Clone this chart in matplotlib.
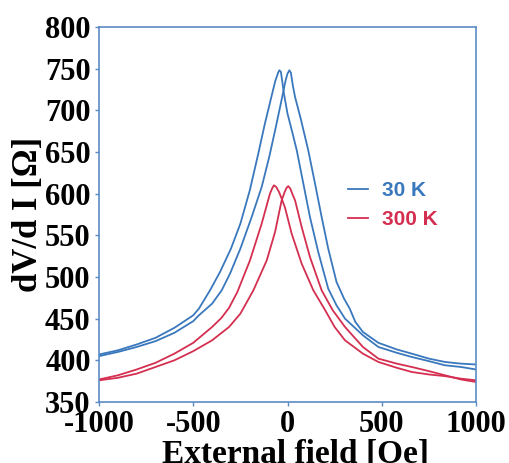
import matplotlib
matplotlib.use("Agg")
import matplotlib.pyplot as plt

plt.rcParams["axes.unicode_minus"] = False

# 30 K, sweep with the peak on the negative side
blue_a_field = [-1000, -900, -800, -700, -600, -500, -470, -411, -358, -300, -250, -200,
                -155, -120, -90, -65, -50, -43, -35, -25, -19, 0, 25, 49, 84, 119, 163,
                216, 260, 305, 400, 482, 580, 659, 750, 836, 920, 1000]
blue_a_res = [407, 412, 419, 427, 439, 454, 462, 484, 506, 534, 564, 604,
              648, 684, 712, 735, 745, 748, 746, 730, 720, 696, 674, 652, 612, 572, 530,
              486, 466, 450, 430, 416, 409, 404, 399, 394, 392, 389]

# 30 K, sweep with the peak on the positive side
blue_b_field = [-1000, -900, -800, -700, -600, -500, -470, -400, -349, -305, -250, -190,
                -137, -97, -60, -30, -10, 0, 10, 18, 28, 40, 70, 110, 146, 181, 216,
                260, 300, 330, 360, 400, 482, 580, 659, 750, 836, 920, 1000]
blue_b_res = [405, 410, 416, 423, 433, 447, 454, 468, 484, 504, 534, 572,
              608, 644, 682, 714, 736, 744, 748, 745, 730, 716, 690, 652, 612, 572, 534,
              494, 474, 462, 446, 434, 421, 413, 408, 402, 398, 396, 395]

# 300 K
red_a_field = [-1000, -900, -800, -700, -600, -500, -400, -350, -310, -266, -199, -137,
               -93, -80, -72, -60, -45, -31, -13, 22, 75, 137, 200, 250, 305, 400, 482,
               580, 659, 750, 836, 920, 1000]
red_a_res = [377, 382, 389, 397, 408, 421, 440, 451, 463, 482, 520, 564,
             600, 607, 610, 608, 602, 594, 583, 552, 516, 484, 460, 440, 424, 408, 398,
             391, 386, 383, 381, 378, 376]

red_b_field = [-1000, -900, -800, -700, -600, -500, -400, -310, -250, -181, -110, -66,
               -31, -15, -5, 4, 15, 25, 40, 75, 119, 181, 240, 305, 400, 482, 580, 659,
               750, 836, 920, 1000]
red_b_res = [376, 379, 384, 392, 400, 411, 424, 440, 456, 484, 520, 554,
             592, 602, 607, 609, 606, 600, 592, 560, 524, 484, 460, 440, 416, 402, 396, 392,
             387, 382, 377, 374]

BLUE = "#3a78bd"
RED = "#d42f50"
SPINE = "#5b8bc6"
SERIF = "Liberation Serif"

fig = plt.figure(figsize=(5.09, 4.63), dpi=100)
ax = fig.add_axes([0.1945, 0.1318, 0.7407, 0.81])

ax.plot(blue_a_field, blue_a_res, color=BLUE, lw=1.3, label="30 K")
ax.plot(blue_b_field, blue_b_res, color=BLUE, lw=1.3)
ax.plot(red_a_field, red_a_res, color=RED, lw=1.3, label="300 K")
ax.plot(red_b_field, red_b_res, color=RED, lw=1.3)

ax.set_xlim(-1000, 1000)
ax.set_ylim(350, 800)
ax.set_xticks([-1000, -500, 0, 500, 1000])
ax.set_yticks(range(350, 801, 50))

for s in ax.spines.values():
    s.set_color(SPINE)
    s.set_linewidth(1.2)
ax.tick_params(direction="out", length=3, width=1, color=SPINE, pad=3)
for lab in ax.get_xticklabels() + ax.get_yticklabels():
    lab.set_fontfamily(SERIF)
    lab.set_fontweight("bold")
    lab.set_fontsize(22)

ax.set_xlabel("External field [Oe]", fontfamily=SERIF, fontweight="bold",
              fontsize=24, labelpad=0)
ax.xaxis.label.set_x(0.522)
ax.set_ylabel("dV/d I [Ω]", fontfamily=SERIF, fontweight="bold",
              fontsize=25, labelpad=0)

ax.legend(loc="center left", bbox_to_anchor=(0.61, 0.525),
          frameon=False, handlelength=0.95, handletextpad=0.7,
          labelspacing=0.5, labelcolor="linecolor",
          prop={"family": "Liberation Sans", "weight": "bold", "size": 15})

fig.savefig("out.png", dpi=100)
